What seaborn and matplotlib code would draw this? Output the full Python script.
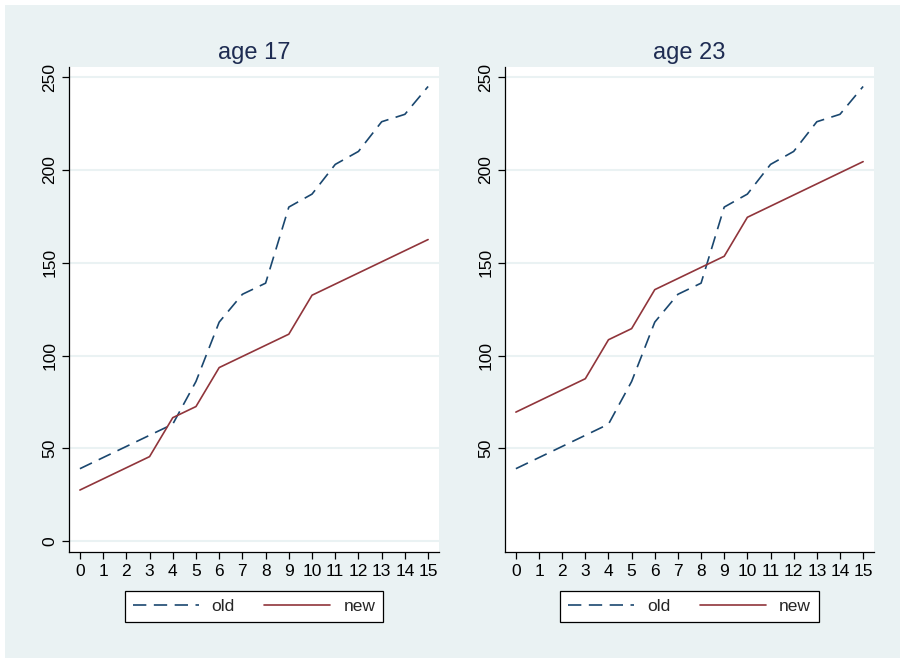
import seaborn as sns
import pandas as pd
import matplotlib.pyplot as plt
from matplotlib.patches import Rectangle

# data
months = list(range(16))
old = [39, 45, 51, 57, 63, 86, 118, 133, 139, 180, 187, 203, 210, 226, 230, 245]
new_17 = [27.5, 33.5, 39.5, 45.5, 66.5, 72.5, 93.5, 99.5, 105.5, 111.5,
          132.5, 138.5, 144.5, 150.5, 156.5, 162.5]
new_23 = [69.5, 75.5, 81.5, 87.5, 108.5, 114.5, 135.5, 141.5, 147.5, 153.5,
          174.5, 180.5, 186.5, 192.5, 198.5, 204.5]
panel_titles = ["age 17", "age 23"]
yticks_17 = [0, 50, 100, 150, 200, 250]
yticks_23 = [50, 100, 150, 200, 250]

sns.set_style("white")
plt.rcParams['font.family'] = ['Liberation Sans', 'DejaVu Sans']

bg = "#EAF2F3"
navy = "#1A476F"
maroon = "#90353B"

fig = plt.figure(figsize=(9.04, 6.59), dpi=100)
fig.patch.set_facecolor("white")
fig.patches.append(Rectangle((5 / 904, 1 / 659), 895 / 904, 653 / 659,
                             transform=fig.transFigure, facecolor=bg,
                             edgecolor="none", zorder=-10))

ax1 = fig.add_axes([69 / 904, 107 / 659, 370 / 904, 485 / 659])
ax2 = fig.add_axes([505 / 904, 107 / 659, 369 / 904, 485 / 659])

panels = [(ax1, new_17, yticks_17, panel_titles[0]),
          (ax2, new_23, yticks_23, panel_titles[1])]

for ax, new, yt, title in panels:
    df = pd.DataFrame({"month": months, "old": old, "new": new})
    sns.lineplot(data=df, x="month", y="old", ax=ax, color=navy, linewidth=1.2, label="old")
    ax.lines[-1].set_dashes((8, 4.5))
    sns.lineplot(data=df, x="month", y="new", ax=ax, color=maroon, linewidth=1.2, label="new")

    ax.set_facecolor("white")
    ax.set_xlim(-0.47, 15.47)
    ax.set_ylim(-5.9, 255.5)
    ax.set_xticks(months)
    ax.set_yticks(yt)
    ax.set_xlabel("")
    ax.set_ylabel("")
    ax.grid(axis="y", color=bg, linewidth=1.5)
    ax.set_axisbelow(True)
    for s in ["top", "right"]:
        ax.spines[s].set_visible(False)
    for s in ["left", "bottom"]:
        ax.spines[s].set_color("black")
        ax.spines[s].set_linewidth(0.9)
    ax.tick_params(axis="both", direction="out", length=5, width=0.9,
                   color="black", labelsize=12.5, labelcolor="black",
                   left=True, bottom=True)
    for lab in ax.get_yticklabels():
        lab.set_rotation(90)
        lab.set_va("center")
    ax.set_title(title, fontsize=17, color="#1E2C52", pad=6)

    leg = ax.legend(loc="center", bbox_to_anchor=(0.5, -0.112), ncol=2,
                    frameon=True, fancybox=False, framealpha=1, fontsize=12.5,
                    handlelength=3.8, handletextpad=0.75, columnspacing=1.7,
                    borderpad=0.45)
    leg.get_frame().set_edgecolor("black")
    leg.get_frame().set_facecolor("white")
    leg.get_frame().set_linewidth(0.9)

fig.savefig("out.png", dpi=100, facecolor=fig.get_facecolor())
